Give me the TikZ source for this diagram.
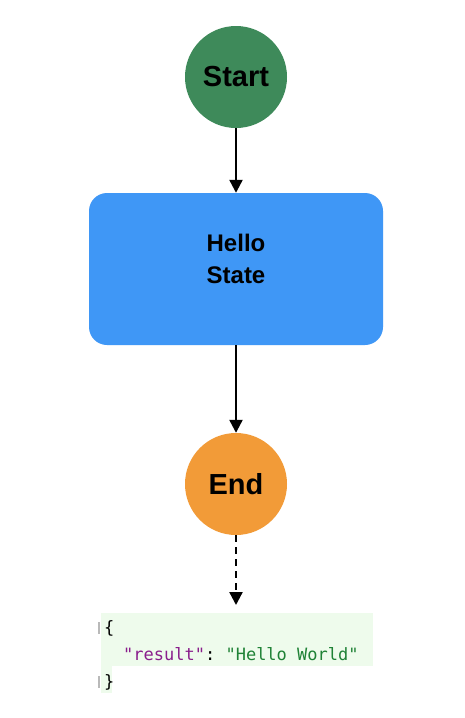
\documentclass[tikz,border=0pt]{standalone}
\usepackage{fontspec}
\setmainfont{Liberation Sans}
\newfontfamily\jsonfont{DejaVu Sans Mono}
\usetikzlibrary{arrows.meta}
\definecolor{startgreen}{HTML}{3E8A5A}
\definecolor{stateblue}{HTML}{3F97F6}
\definecolor{endorange}{HTML}{F29B38}
\definecolor{jsonbg}{HTML}{EEFBEC}
\definecolor{jsonkey}{HTML}{8A1E8C}
\definecolor{jsonstr}{HTML}{1F8236}
\tikzset{
  statecircle/.style={circle, minimum size=102pt, inner sep=0pt, font=\fontsize{29}{32}\selectfont\bfseries},
  statebox/.style={rectangle, rounded corners=18pt, minimum width=294pt, minimum height=152pt, inner sep=0pt, fill=stateblue},
  boxtext/.style={align=center, inner sep=0pt, font=\fontsize{24}{32}\selectfont\bfseries},
  flow/.style={line width=2.3pt, -{Triangle[length=13pt,width=13pt]}},
  jsontext/.style={anchor=base west, inner sep=0pt, font=\jsonfont\fontsize{17}{20}\selectfont}
}
\begin{document}
\begin{tikzpicture}[x=1pt,y=-1pt]
\useasboundingbox[fill=white] (0,0) rectangle (464,718);
\node[statecircle, fill=startgreen] (start) at (236,77) {Start};
\node[statebox] (hello) at (236,269) {};
\node[boxtext] (hellotext) at (236,259) {Hello\\State};
\node[statecircle, fill=endorange] (end) at (236,484) {End};
\fill[jsonbg] (101,613) rectangle (373,666);
\fill[jsonbg] (101,666) rectangle (112,693);
\fill[gray!55] (98,622) rectangle (99.5,634);
\fill[gray!55] (98,676) rectangle (99.5,688);
\coordinate (json) at (236,605);
\node[jsontext] (lb) at (104,633) {\{};
\node[jsontext] (kv) at (123,660) {\textcolor{jsonkey}{"result"}:\ \textcolor{jsonstr}{"Hello World"}};
\node[jsontext] (rb) at (104,687) {\}};
\draw[flow] (start) -- (hello);
\draw[flow] (hello) -- (end);
\draw[flow, dash pattern=on 7pt off 5pt] (end) -- (json);
\end{tikzpicture}
\end{document}
